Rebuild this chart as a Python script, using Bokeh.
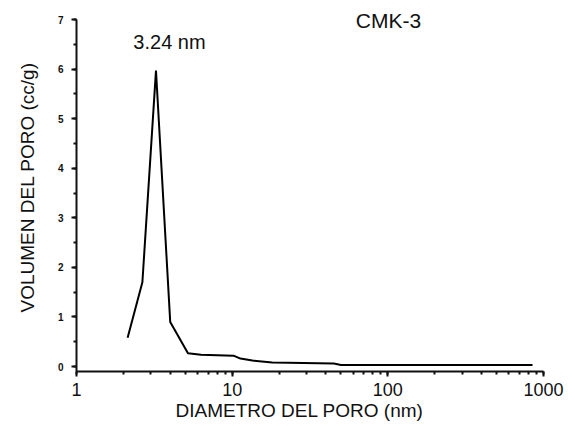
from bokeh.plotting import figure
from bokeh.models import Label, SingleIntervalTicker, LogTicker, Range1d, ColumnDataSource, Title
from bokeh.embed import file_html
from bokeh.resources import INLINE

# data
diameter_nm = [2.13, 2.65, 3.24, 4.0, 5.2, 6.3, 10.2, 11.3, 13.5, 18.1, 45.0, 50.0, 850.0]
pore_volume = [0.58, 1.7, 5.97, 0.9, 0.27, 0.24, 0.22, 0.16, 0.12, 0.08, 0.06, 0.03, 0.03]
x_ticks = [1, 10, 100, 1000]
x_tick_labels = ["1", "10", "100", "1000"]
x_label = "DIAMETRO DEL PORO (nm)"
y_label = "VOLUMEN DEL PORO (cc/g)"
peak_label = "3.24 nm"
sample_label = "CMK-3"

FONT = "Liberation Sans"
W, H = 575, 426
FL, FT, FR, FB = 76, 5, 543, 371  # frame edges in page pixels
Y7 = 19                           # page row of the top y tick (7)
y_lo, y_top_tick = -0.1, 7.0
y_hi = y_top_tick + (Y7 - FT) * (y_top_tick - y_lo) / (FB - Y7)

p = figure(width=W, height=H, x_axis_type="log", output_backend="svg",
           toolbar_location=None,
           x_range=Range1d(1, 1000), y_range=Range1d(y_lo, y_hi),
           min_border_left=FL, min_border_right=W - FR, min_border_top=FT, min_border_bottom=H - FB)
p.outline_line_color = None
p.xgrid.visible = False
p.ygrid.visible = False
p.background_fill_color = "white"
p.border_fill_color = "white"

src = ColumnDataSource(dict(x=diameter_nm, y=pore_volume))
p.line("x", "y", source=src, line_color="black", line_width=2)

# axes
for ax in (p.xaxis[0], p.yaxis[0]):
    ax.axis_line_color = "#111111"
    ax.axis_line_width = 2
    ax.major_tick_line_color = "#111111"
    ax.minor_tick_line_color = "#111111"
    ax.major_tick_line_width = 2
    ax.minor_tick_line_width = 2
    ax.major_tick_out = 5
    ax.major_tick_in = 0
    ax.minor_tick_out = 3
    ax.minor_tick_in = 0

p.yaxis.bounds = (y_lo, y_top_tick)

p.xaxis.ticker = LogTicker(num_minor_ticks=10)
p.xaxis.major_label_overrides = dict(zip(x_ticks, x_tick_labels))
p.xaxis.major_label_text_font = FONT
p.xaxis.major_label_text_font_size = "18px"
p.xaxis.major_label_text_font_style = "normal"
p.xaxis.major_label_text_color = "#111111"
p.xaxis.major_label_standoff = 6

p.yaxis.ticker = SingleIntervalTicker(interval=1, num_minor_ticks=2)
p.yaxis.major_label_text_font = FONT
p.yaxis.major_label_text_font_size = "10px"
p.yaxis.major_label_text_font_style = "bold"
p.yaxis.major_label_text_color = "#111111"
p.yaxis.major_label_standoff = 8

# axis titles (offset = distance of the text start from the frame's left / bottom edge)
p.add_layout(Title(text=x_label, align="left", offset=177 - FL - 2, standoff=0,
                   vertical_align="middle",
                   text_font=FONT, text_font_size="19px", text_font_style="normal",
                   text_color="#111111"), "below")
p.add_layout(Title(text=y_label, align="left", offset=FB - 312, standoff=31,
                   vertical_align="middle",
                   text_font=FONT, text_font_size="19px", text_font_style="normal",
                   text_color="#111111"), "left")


def add_text(px, py, text, size):
    # px, py are page pixels; Label screen units are relative to the frame's bottom-left
    p.add_layout(Label(x=px - FL, y=FB - py, x_units="screen", y_units="screen",
                       text=text, text_font=FONT, text_font_size=size,
                       text_align="center", text_baseline="middle", text_color="#111111"))


add_text(169, 41, peak_label, "20px")
add_text(388, 20, sample_label, "21px")

open("out.html", "w").write(file_html(p, INLINE))
